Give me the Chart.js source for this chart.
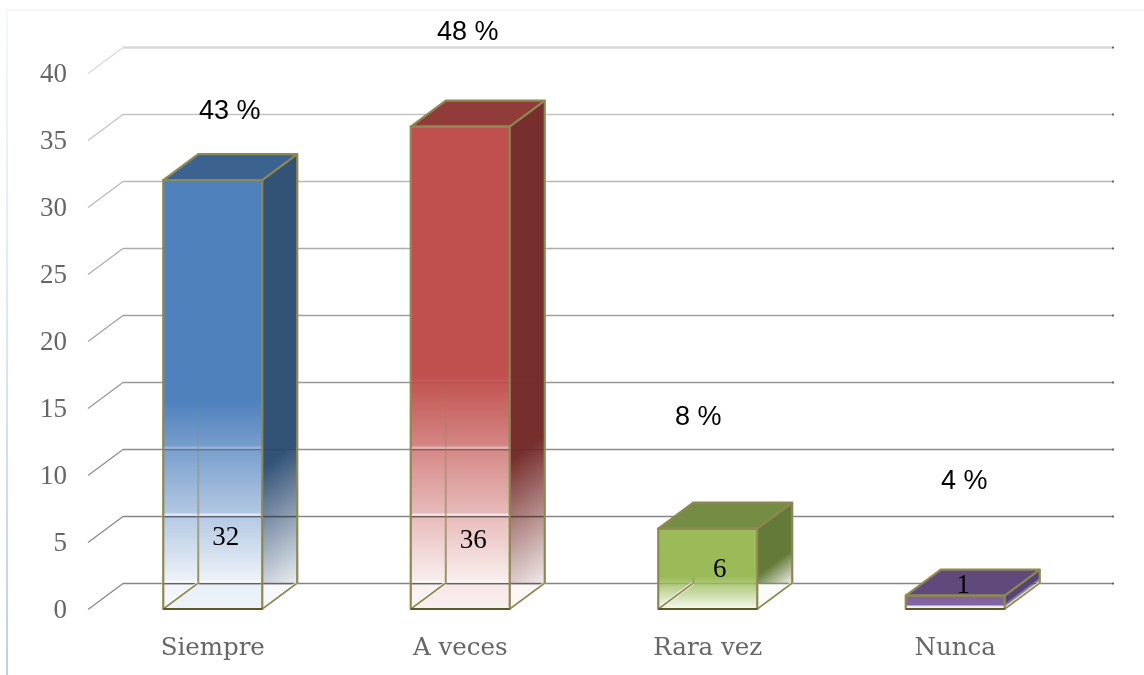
<!DOCTYPE html>
<html>
<head>
<meta charset="utf-8">
<title>Frecuencia</title>
<script src="https://cdn.jsdelivr.net/npm/chart.js@4"></script>
<style>
  body { margin: 0; background: #fff; }
  canvas { display: block; }
</style>
</head>
<body>
<canvas id="myChart" width="1144" height="675"></canvas>
<script>
const categories = ["Siempre", "A veces", "Rara vez", "Nunca"];
const values = [32, 36, 6, 1];
const percentLabels = ["43 %", "48 %", "8 %", "4 %"];
const yTicks = [0, 5, 10, 15, 20, 25, 30, 35, 40];

// face colours, one per bar
const frontRgb = ["79,129,189", "192,80,77", "155,187,89", "128,100,162"];
const topColors = ["#3c6390", "#8f3c3a", "#748c43", "#604a7b"];
const sideRgb = ["50,82,118", "119,47,46", "100,122,56", "88,68,116"];

// front fade: fraction of bar height from the top
const frontFadeStart = [0.515, 0.515, 0.6, 0.68];
const frontFadeEnd = [0.94, 0.946, 0.98, 0.8];
// side fade start: height above the base, in bar heights
const sideFadeStart = [0.39, 0.36, 0.74, 2.4];
const hasGlow = [true, true, false, false];

// label offsets in px: percent from the bar top, count from the bar base
const percentOffset = [[17, -69], [7.5, -94], [-9.5, -111], [9, -114]];
const countOffset = [[13, -71], [13, -68], [12, -39], [8, -23]];

const gridGrays = ["#858585", "#868686", "#8c8c8c", "#989898", "#a0a0a0", "#acacac", "#b8b8b8", "#c4c4c4", "#d8d8d8"];

const DEPTH_X = 35;
const DEPTH_Y = -26;
const EDGE = "#8f8853";

function frontGradient(context) {
  const { chart, dataIndex } = context;
  const rgb = frontRgb[dataIndex];
  if (!chart.chartArea) return "rgb(" + rgb + ")";
  const y = chart.scales.y;
  const top = y.getPixelForValue(values[dataIndex]);
  const base = y.getPixelForValue(0);
  const g = chart.ctx.createLinearGradient(0, top, 0, base);
  g.addColorStop(0, "rgba(" + rgb + ",1)");
  g.addColorStop(frontFadeStart[dataIndex], "rgba(" + rgb + ",1)");
  g.addColorStop(frontFadeEnd[dataIndex], "rgba(" + rgb + ",0.09)");
  g.addColorStop(1, "rgba(" + rgb + ",0.04)");
  return g;
}

function poly(ctx, pts) {
  ctx.beginPath();
  pts.forEach((p, i) => (i ? ctx.lineTo(p[0], p[1]) : ctx.moveTo(p[0], p[1])));
  ctx.closePath();
}

function segment(ctx, x1, y1, x2, y2, color, width) {
  ctx.strokeStyle = color;
  ctx.lineWidth = width;
  ctx.beginPath();
  ctx.moveTo(x1, y1);
  ctx.lineTo(x2, y2);
  ctx.stroke();
}

const box3d = {
  id: "box3d",
  beforeDraw(chart) {
    // pale frame of the pasted picture
    const ctx = chart.ctx;
    const g = ctx.createLinearGradient(0, 10, 0, 675);
    g.addColorStop(0, "#f4f7fc");
    g.addColorStop(0.5, "#dbe6f4");
    g.addColorStop(1, "#bcd0ea");
    ctx.fillStyle = g;
    ctx.fillRect(6, 10, 2, 665);
    ctx.fillStyle = "#f5f6fb";
    ctx.fillRect(6, 9, 1138, 2);
  },
  beforeDatasetsDraw(chart) {
    const ctx = chart.ctx;
    const y = chart.scales.y;
    const area = chart.chartArea;
    ctx.save();
    // back wall lines and the short diagonals on the left
    yTicks.forEach((v, i) => {
      const py = y.getPixelForValue(v);
      const w = i === yTicks.length - 1 ? 2.5 : 1.5;
      segment(ctx, area.left - 1, py + 0.5, area.left + DEPTH_X - 1, py + DEPTH_Y + 0.5, gridGrays[i], 1.2);
      segment(ctx, area.left + DEPTH_X - 1, py + DEPTH_Y + 0.5, area.right + DEPTH_X - 2, py + DEPTH_Y + 0.5, gridGrays[i], w);
      ctx.fillStyle = "#666";
      ctx.fillRect(area.right + DEPTH_X - 2, py + DEPTH_Y - 0.5, 2, 2);
    });
    // floors under each bar
    const meta = chart.getDatasetMeta(0);
    meta.data.forEach((bar, i) => {
      const x0 = bar.x - bar.width / 2;
      const x1 = bar.x + bar.width / 2;
      const base = bar.base;
      poly(ctx, [[x0, base], [x1, base], [x1 + DEPTH_X, base + DEPTH_Y], [x0 + DEPTH_X, base + DEPTH_Y]]);
      ctx.fillStyle = "rgba(" + frontRgb[i] + ",0.05)";
      ctx.fill();
    });
    ctx.restore();
  },
  afterDatasetsDraw(chart) {
    const ctx = chart.ctx;
    const yScale = chart.scales.y;
    const meta = chart.getDatasetMeta(0);
    ctx.save();
    ctx.lineJoin = "round";
    meta.data.forEach((bar, i) => {
      const x0 = bar.x - bar.width / 2;
      const x1 = bar.x + bar.width / 2;
      const top = bar.y;
      const base = bar.base;
      const h = base - top;
      const floorY = base + DEPTH_Y;
      const rgb = sideRgb[i];
      const tall = top < floorY;
      const sx = x1 + DEPTH_X;

      // side face, fading towards the lower right
      const startY = base - h * sideFadeStart[i];
      const k = (40 * Math.max(floorY - startY, 4)) / 2500;
      const sg = ctx.createLinearGradient(sx, startY, sx + 30 * k, startY + 40 * k);
      sg.addColorStop(0, "rgba(" + rgb + ",1)");
      sg.addColorStop(1, "rgba(" + rgb + ",0.1)");
      ctx.save();
      if (tall) {
        ctx.beginPath();
        ctx.rect(x1, 0, DEPTH_X + 2, floorY);
        ctx.clip();
      }
      poly(ctx, [[x1, top], [sx, top + DEPTH_Y], [sx, floorY], [x1, base]]);
      ctx.fillStyle = sg;
      ctx.fill();
      ctx.restore();

      // wall lines showing through the pale part, with a white glow above them
      if (hasGlow[i]) {
        const fadeY = top + h * frontFadeStart[i];
        yTicks.forEach((v) => {
          const py = yScale.getPixelForValue(v) + DEPTH_Y;
          if (py > fadeY) {
            const a = Math.min(0.6, (py - fadeY) / 200);
            ctx.fillStyle = "rgba(255,255,255," + a + ")";
            ctx.fillRect(x0, py - 2.5, x1 - x0, 2.5);
            ctx.fillStyle = "rgba(50,50,50," + a / 1.5 + ")";
            ctx.fillRect(x0, py, sx - x0, 1.5);
          }
        });
      }

      // top face
      poly(ctx, [[x0, top], [x1, top], [sx, top + DEPTH_Y], [x0 + DEPTH_X, top + DEPTH_Y]]);
      ctx.fillStyle = topColors[i];
      ctx.fill();

      // rear edges, fading out upwards
      if (h > 40) {
        const rearTop = top + h * frontFadeStart[i];
        const rg = ctx.createLinearGradient(0, rearTop, 0, floorY);
        rg.addColorStop(0, "rgba(143,136,83,0)");
        rg.addColorStop(1, "rgba(143,136,83,0.95)");
        segment(ctx, x0 + DEPTH_X, rearTop, x0 + DEPTH_X, floorY, rg, 2);
        segment(ctx, x0 + 1, base - 1, x0 + DEPTH_X, floorY, "#fff", 3);
        segment(ctx, x0, base, x0 + DEPTH_X, floorY, EDGE, 1.6);
      }
      segment(ctx, x1, base, sx, floorY, "#fff", 3);
      segment(ctx, x1, base, sx, floorY, EDGE, 1.6);

      // outlines of the box
      ctx.strokeStyle = EDGE;
      ctx.lineWidth = 2.2;
      ctx.strokeRect(x0, top, x1 - x0, h);
      poly(ctx, [[x0, top], [x0 + DEPTH_X, top + DEPTH_Y], [sx, top + DEPTH_Y], [x1, top]]);
      ctx.stroke();
      segment(ctx, sx, top + DEPTH_Y, sx, floorY, EDGE, 2.2);
      segment(ctx, x0, base, x1, base, "#5f5829", 2);
    });

    // counts and percentages
    ctx.fillStyle = "#000";
    ctx.textAlign = "center";
    ctx.textBaseline = "middle";
    meta.data.forEach((bar, i) => {
      ctx.font = "27px 'Liberation Serif'";
      ctx.fillText(String(values[i]), bar.x + countOffset[i][0], bar.base + countOffset[i][1]);
      ctx.font = "27px 'Liberation Sans'";
      ctx.fillText(percentLabels[i], bar.x + percentOffset[i][0], bar.y + percentOffset[i][1]);
    });
    ctx.restore();
  },
};

const ctx = document.getElementById("myChart").getContext("2d");
new Chart(ctx, {
  type: "bar",
  data: {
    labels: categories,
    datasets: [
      {
        data: values,
        backgroundColor: frontGradient,
        borderWidth: 0,
        barPercentage: 0.4,
        categoryPercentage: 1,
      },
    ],
  },
  options: {
    responsive: false,
    animation: false,
    devicePixelRatio: 1,
    layout: { padding: { top: 73, right: 65, left: 0, bottom: 0 } },
    plugins: { legend: { display: false }, tooltip: { enabled: false } },
    scales: {
      x: {
        afterFit(scale) {
          scale.height = 66;
        },
        grid: { display: false },
        border: { display: false },
        ticks: {
          padding: 17,
          color: "#666",
          maxRotation: 0,
          font: { family: "'DejaVu Serif'", size: 24.5 },
        },
      },
      y: {
        min: yTicks[0],
        max: yTicks[yTicks.length - 1],
        afterBuildTicks(scale) {
          scale.ticks = yTicks.map((v) => ({ value: v }));
        },
        afterFit(scale) {
          scale.width = 89;
        },
        grid: { display: false },
        border: { display: false },
        ticks: {
          padding: 14,
          labelOffset: 2,
          color: "#666",
          font: { family: "'Liberation Serif'", size: 27 },
        },
      },
    },
  },
  plugins: [box3d],
});
</script>
</body>
</html>
